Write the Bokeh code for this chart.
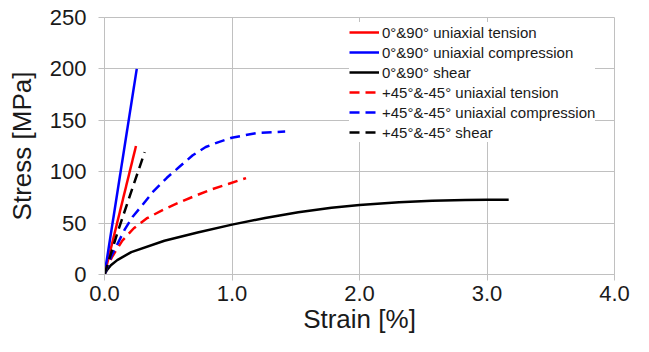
from bokeh.plotting import figure
from bokeh.models import FixedTicker, Legend, LegendItem
from bokeh.embed import file_html
from bokeh.resources import INLINE

# ---- data (strain in %, stress in MPa) ----
labels = ["0°&90° uniaxial tension", "0°&90° uniaxial compression", "0°&90° shear",
          "+45°&-45° uniaxial tension", "+45°&-45° uniaxial compression", "+45°&-45° shear"]

t090_strain = [0.0, 0.247]
t090_stress = [0.0, 125.0]

c090_strain = [0.0, 0.253]
c090_stress = [0.0, 200.0]

s090_strain = [0.0, 0.02, 0.05, 0.10, 0.21, 0.47, 0.73, 1.0, 1.26, 1.52, 1.78, 2.0, 2.31, 2.57, 2.83, 3.0, 3.17]
s090_stress = [0.0, 4.5, 9.0, 14.0, 21.8, 32.8, 40.8, 48.5, 55.0, 60.5, 65.0, 67.6, 70.2, 71.7, 72.5, 72.6, 72.6]

t45_strain = [0.0, 0.02, 0.064, 0.14, 0.23, 0.33, 0.46, 0.585, 0.71, 0.84, 0.97, 1.11]
t45_stress = [0.0, 8.0, 18.0, 33.0, 45.0, 54.5, 63.0, 70.0, 76.5, 82.8, 88.0, 93.8]

c45_strain = [0.0, 0.02, 0.056, 0.107, 0.158, 0.221, 0.285, 0.387, 0.489, 0.59, 0.692, 0.794, 0.895, 0.998, 1.2, 1.417]
c45_stress = [0.0, 7.0, 18.4, 31.0, 43.6, 56.2, 65.7, 81.4, 94.1, 105.0, 116.0, 124.0, 128.8, 133.0, 137.8, 139.0]

s45_strain = [0.0, 0.1, 0.2, 0.315]
s45_stress = [0.0, 40.0, 77.0, 119.0]

x_ticks = [0, 1, 2, 3, 4]
x_tick_labels = ["0.0", "1.0", "2.0", "3.0", "4.0"]
y_ticks = [0, 50, 100, 150, 200, 250]

FONT = "Liberation Sans"
GRID = "#c0c0c0"
TXT = "#1a1a1a"

p = figure(width=633, height=336, output_backend="svg", toolbar_location=None,
           x_range=(0, 4), y_range=(0, 250),
           min_border_left=104, min_border_right=19, min_border_top=17, min_border_bottom=61)

p.outline_line_color = GRID
p.background_fill_color = "white"
p.border_fill_color = "white"

for ax in (p.xaxis[0], p.yaxis[0]):
    ax.axis_line_color = GRID
    ax.major_tick_line_color = GRID
    ax.major_tick_out = 6
    ax.major_tick_in = 0
    ax.minor_tick_line_color = None
    ax.major_label_text_font = FONT
    ax.major_label_text_font_size = "22px"
    ax.major_label_text_color = TXT
    ax.axis_label_text_font = FONT
    ax.axis_label_text_font_style = "normal"
    ax.axis_label_text_font_size = "26px"
    ax.axis_label_text_color = TXT

p.xaxis.ticker = FixedTicker(ticks=x_ticks)
p.xaxis.major_label_overrides = {t: l for t, l in zip(x_ticks, x_tick_labels)}
p.xaxis.major_label_standoff = 5
p.xaxis.axis_label = "Strain [%]"
p.xaxis.axis_label_standoff = 0
p.yaxis.ticker = FixedTicker(ticks=y_ticks)
p.yaxis.major_label_standoff = 12
p.yaxis.axis_label = "Stress [MPa]"
p.yaxis.axis_label_standoff = 10

p.grid.grid_line_color = GRID
p.grid.grid_line_width = 1

LW = 2.5
DASH = "10 6"
r1 = p.line(t090_strain, t090_stress, line_color="#ff0000", line_width=LW)
r2 = p.line(c090_strain, c090_stress, line_color="#0000ff", line_width=LW)
r3 = p.line(s090_strain, s090_stress, line_color="#000000", line_width=LW)
r4 = p.line(t45_strain, t45_stress, line_color="#ff0000", line_width=LW, line_dash=DASH)
r5 = p.line(c45_strain, c45_stress, line_color="#0000ff", line_width=LW, line_dash=DASH)
r6 = p.line(s45_strain, s45_stress, line_color="#000000", line_width=LW, line_dash=DASH)

legend = Legend(items=[LegendItem(label=l, renderers=[r]) for l, r in zip(labels, [r1, r2, r3, r4, r5, r6])],
                location=(245, 132))
legend.label_text_font = FONT
legend.label_text_font_size = "15px"
legend.label_text_color = TXT
legend.glyph_width = 30
legend.glyph_height = 20
legend.label_height = 20
legend.spacing = 0
legend.padding = 4
legend.margin = 0
legend.label_standoff = 3
legend.border_line_color = None
legend.background_fill_color = "white"
legend.background_fill_alpha = 1.0
p.add_layout(legend)

open("out.html", "w").write(file_html(p, INLINE))
